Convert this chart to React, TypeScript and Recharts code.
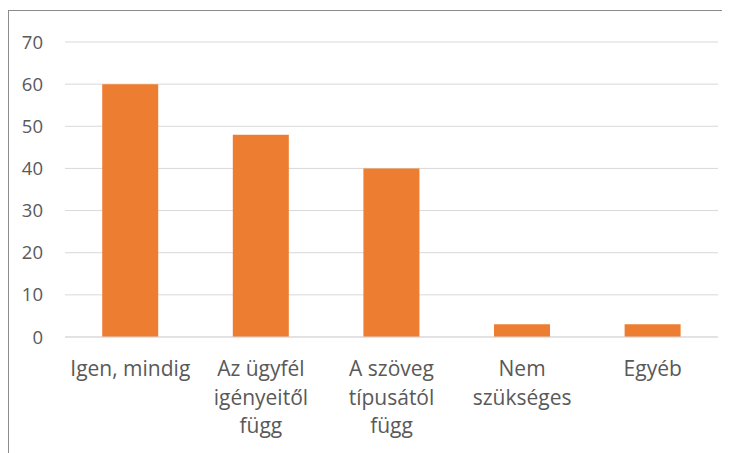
import React from "react";
import { BarChart, Bar, XAxis, YAxis, CartesianGrid } from "recharts";

const CATEGORIES = [
  "Igen, mindig",
  "Az ügyfél\nigényeitől\nfügg",
  "A szöveg\ntípusától\nfügg",
  "Nem\nszükséges",
  "Egyéb",
];
const VALUES = [60, 48, 40, 3, 3];
const Y_TICKS = [0, 10, 20, 30, 40, 50, 60, 70];

const FONT = "'Open Sans', 'Noto Sans', sans-serif";
const TEXT_COLOR = "#595959";

const data = CATEGORIES.map((name, i) => ({ name, value: VALUES[i] }));

function CategoryTick(props: any) {
  const { x, y, payload } = props;
  const lines = String(payload.value).split("\n");
  return (
    <text
      x={x}
      y={y}
      textAnchor="middle"
      fill={TEXT_COLOR}
      fontSize={21}
      fontFamily={FONT}
    >
      {lines.map((line, i) => (
        <tspan key={i} x={x} dy={i === 0 ? 31 : 28.5}>
          {line}
        </tspan>
      ))}
    </text>
  );
}

export default function App() {
  return (
    <div
      style={{
        marginTop: 2,
        width: 721,
        height: 442,
        borderLeft: "1px solid #8c8c8c",
        borderTop: "1px solid #8c8c8c",
        background: "#fff",
      }}
    >
      <BarChart
        width={721}
        height={442}
        data={data}
        margin={{ top: 31, right: 12, bottom: 0, left: 0 }}
        barCategoryGap="28.5%"
      >
        <CartesianGrid vertical={false} stroke="#d9d9d9" strokeWidth={1} />
        <XAxis
          dataKey="name"
          height={116}
          interval={0}
          tickLine={false}
          axisLine={{ stroke: "#d9d9d9" }}
          tick={<CategoryTick />}
        />
        <YAxis
          width={56}
          domain={[0, 70]}
          ticks={Y_TICKS}
          interval={0}
          axisLine={false}
          tickLine={false}
          tickMargin={16}
          tick={{ fill: TEXT_COLOR, fontSize: 18.5, fontFamily: FONT }}
        />
        <Bar dataKey="value" fill="#ED7D31" isAnimationActive={false} />
      </BarChart>
    </div>
  );
}
